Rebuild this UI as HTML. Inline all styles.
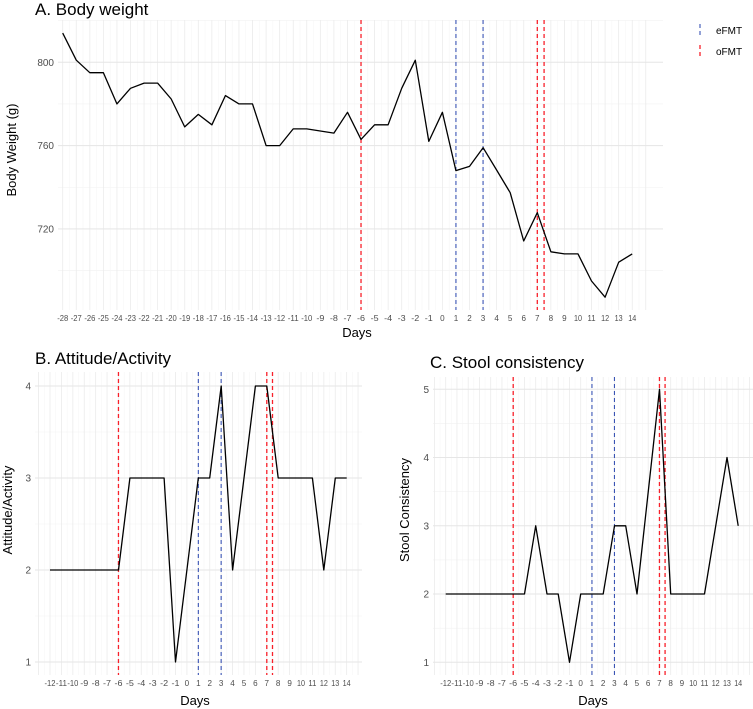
<!DOCTYPE html>
<html><head><meta charset="utf-8"><style>
body{margin:0;background:#fff;}
svg{display:block;font-family:"Liberation Sans",sans-serif;}
</style></head><body>
<svg id="fig" width="753" height="709" viewBox="0 0 753 709"></svg>
<script>
const aDays=[-28,-27,-26,-25,-24,-23,-22,-21,-20,-19,-18,-17,-16,-15,-14,-13,-12,-11,-10,-9,-8,-7,-6,-5,-4,-3,-2,-1,0,1,2,3,4,5,6,7,8,9,10,11,12,13,14];
const aWeight=[814,801,795,795,780,787.5,790,790,782.4,769,775,770,784,780,780,760,760,768,768,767,766,776,763,770,770,787.5,801,762,776,748,750,759,748.3,737.4,714.2,727.8,709,708,708,695,687.2,704,708];
const aYTicks=[720,760,800];
const bDays=[-12,-11,-10,-9,-8,-7,-6,-5,-4,-3,-2,-1,1,2,3,4,6,7,8,9,10,11,12,13,14];
const bScore=[2,2,2,2,2,2,2,3,3,3,3,1,3,3,4,2,4,4,3,3,3,3,2,3,3];
const bYTicks=[1,2,3,4];
const cDays=[-12,-11,-10,-9,-8,-7,-6,-5,-4,-3,-2,-1,0,1,2,3,4,5,7,8,9,10,11,13,14];
const cScore=[2,2,2,2,2,2,2,2,3,2,2,1,2,2,2,3,3,2,5,2,2,2,2,4,3];
const cYTicks=[1,2,3,4,5];
const oFMTdays=[-6,7,7.5];
const eFMTdays=[1,3];

const NS="http://www.w3.org/2000/svg";
const svg=document.getElementById('fig');
function el(tag,attrs,parent,txt){const e=document.createElementNS(NS,tag);for(const k in attrs)e.setAttribute(k,attrs[k]);if(txt!==undefined)e.textContent=txt;(parent||svg).appendChild(e);return e;}

function panel(cfg){
  const g=el('g',{});
  
  
  const X=d=>cfg.x0+(d-cfg.d0)*cfg.dx;
  const Y=v=>cfg.y0-(v-cfg.v0)*cfg.dy;
  // minor y grid
  for(let v=cfg.ymin;v<=cfg.ymax+1e-9;v+=cfg.yminor){
    const l=el('line',{x1:cfg.left,x2:cfg.right,y1:Y(v),y2:Y(v),stroke:'#f2f2f2','stroke-width':0.6},g);
    
  }
  // x grid
  for(let d=cfg.d0-1;d<=cfg.d1+1.01;d+=0.5){
    const xx=X(d); if(xx<cfg.left||xx>cfg.right)continue;
    const l=el('line',{x1:xx,x2:xx,y1:cfg.top,y2:cfg.bottom,stroke:Number.isInteger(d)?'#ebebeb':'#f4f4f4','stroke-width':Number.isInteger(d)?0.8:0.5},g);
    
  }
  cfg.yticks.forEach(v=>{
    const l=el('line',{x1:cfg.left,x2:cfg.right,y1:Y(v),y2:Y(v),stroke:'#e6e6e6','stroke-width':1},g);
    
    const t=el('text',{x:cfg.left-4,y:Y(v)+3.5,'text-anchor':'end','font-size':10,fill:'#4d4d4d'},g,String(v));
    
  });
  for(let d=cfg.d0;d<=cfg.d1;d++){
    const t=el('text',{x:X(d),y:cfg.bottom+11,'text-anchor':'middle','font-size':8,fill:'#4d4d4d','textLength':d<=-10?11:(d<0||d>=10?8:4.5),'lengthAdjust':'spacingAndGlyphs'},g,String(d));
    
  }
  oFMTdays.forEach(d=>{
    const l=el('line',{x1:X(d),x2:X(d),y1:cfg.top,y2:cfg.bottom,stroke:'#f8202a','stroke-width':1.3,'stroke-dasharray':'4,3'},g);
    
  });
  eFMTdays.forEach(d=>{
    const l=el('line',{x1:X(d),x2:X(d),y1:cfg.top,y2:cfg.bottom,stroke:'#3a54b4','stroke-width':1.1,'stroke-dasharray':'4,3'},g);
    
  });
  const pts=cfg.days.map((d,i)=>X(d).toFixed(1)+','+Y(cfg.vals[i]).toFixed(1)).join(' ');
  const p=el('polyline',{points:pts,fill:'none',stroke:'#000','stroke-width':1.3,'stroke-linejoin':'round'},g);
  
  const ti=el('text',{x:cfg.titleX,y:cfg.titleY,'font-size':17,fill:'#000'},g,cfg.title);
  
  const xt=el('text',{x:cfg.xtX,y:cfg.xtY,'text-anchor':'middle','font-size':13,fill:'#000'},g,'Days');
  
  const yt=el('text',{x:0,y:0,'text-anchor':'middle','font-size':13,fill:'#000',transform:`translate(${cfg.ytX},${cfg.ytY}) rotate(-90)`},g,cfg.ytitle);
  
}

panel({name:'panel-a-body-weight',days:aDays,vals:aWeight,yticks:aYTicks,d0:-28,d1:14,x0:62.7,dx:13.56,v0:800,y0:62.3,dy:83.3/40,
  ymin:700,ymax:820,yminor:20,left:58,right:663,top:20,bottom:310,title:'A. Body weight',titleX:35,titleY:15,
  xtX:357,xtY:337,ytX:16,ytY:150,ytitle:'Body Weight (g)'});
panel({name:'panel-b-attitude',days:bDays,vals:bScore,yticks:bYTicks,d0:-12,d1:14,x0:50,dx:11.41,v0:1,y0:662,dy:92,
  ymin:1,ymax:4,yminor:0.5,left:35,right:362,top:372,bottom:675,title:'B. Attitude/Activity',titleX:35,titleY:364,
  xtX:195,xtY:705,ytX:12,ytY:510,ytitle:'Attitude/Activity'});
panel({name:'panel-c-stool',days:cDays,vals:cScore,yticks:cYTicks,d0:-12,d1:14,x0:445.7,dx:11.25,v0:1,y0:662.3,dy:68.25,
  ymin:1,ymax:5,yminor:0.5,left:433,right:753,top:377,bottom:675,title:'C. Stool consistency',titleX:430,titleY:368,
  xtX:593,xtY:705,ytX:409,ytY:510,ytitle:'Stool Consistency'});

// legend
const lg=el('g',{});


const l1=el('line',{x1:700,x2:700,y1:24,y2:36,stroke:'#3a54b4','stroke-width':1.1,'stroke-dasharray':'4,3'},lg);

const t1=el('text',{x:716,y:34,'font-size':10,fill:'#000'},lg,'eFMT');

const l2=el('line',{x1:700,x2:700,y1:45,y2:57,stroke:'#f8202a','stroke-width':1.3,'stroke-dasharray':'4,3'},lg);

const t2=el('text',{x:716,y:55,'font-size':10,fill:'#000'},lg,'oFMT');

</script>
</body></html>
